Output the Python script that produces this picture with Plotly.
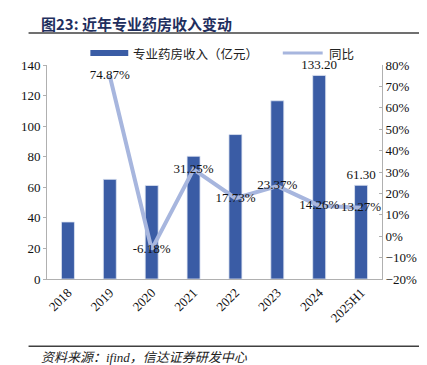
import plotly.graph_objects as go

categories = ["2018", "2019", "2020", "2021", "2022", "2023", "2024", "2025H1"]
revenue = [37.3, 65.2, 61.2, 80.3, 94.5, 116.6, 133.20, 61.30]
growth_cats = ["2019", "2020", "2021", "2022", "2023", "2024", "2025H1"]
growth = [74.87, -6.18, 31.25, 17.73, 23.37, 14.26, 13.27]
labeled_bars = ["2024", "2025H1"]

W, H = 427, 365
serif = "Times New Roman, Liberation Serif, serif"
cjk = "Noto Sans CJK SC"

bar_text = [f"{v:.2f}" if c in labeled_bars else "" for c, v in zip(categories, revenue)]
line_text = [f"{v:.2f}%" for v in growth]

tf = dict(family=serif, size=13, color="#111")

fig = go.Figure()
fig.add_trace(go.Bar(
    x=categories, y=revenue, name="专业药房收入（亿元）",
    marker=dict(color="#3a5ca5", line=dict(color="#dfe6f3", width=0.8)),
    width=0.31, text=bar_text, textposition="outside", constraintext="none",
    textfont=tf, outsidetextfont=tf, cliponaxis=False,
    showlegend=False,
))
fig.add_trace(go.Scatter(
    x=growth_cats, y=growth, name="同比", yaxis="y2",
    mode="lines+text", line=dict(color="#a7b6de", width=4),
    text=line_text, textposition="middle center",
    textfont=tf, cliponaxis=False,
    showlegend=False,
))

L, R, T, B = 38.5, 374.5, 57, 271.5
fig.update_layout(
    width=W, height=H, autosize=False,
    font=dict(family=serif, size=13, color="#111"),
    margin=dict(l=L, r=W - R, t=T, b=H - B),
    plot_bgcolor="white", paper_bgcolor="white",
    xaxis=dict(
        type="category", showline=True, linecolor="#b0b0b0", linewidth=1,
        ticks="", tickangle=-45, showgrid=False,
        tickfont=tf,
    ),
    yaxis=dict(
        range=[0, 140], dtick=20, showgrid=False, zeroline=False,
        showline=True, linecolor="#b0b0b0", linewidth=1,
        ticks="outside", ticklen=3, tickcolor="#b0b0b0",
        tickfont=tf,
    ),
    yaxis2=dict(
        range=[-20, 80], dtick=10, ticksuffix="%", overlaying="y", side="right",
        showgrid=False, zeroline=False,
        showline=True, linecolor="#b0b0b0", linewidth=1,
        ticks="inside", ticklen=3, tickcolor="#b0b0b0",
        tickfont=tf,
    ),
)


def fx(xpx):
    return (xpx - L) / (R - L)


def fy(ypx):
    return (B - ypx) / (B - T)


shapes = [
    dict(type="line", xref="paper", yref="paper", x0=fx(20), x1=fx(427),
         y0=fy(25), y1=fy(25), line=dict(color="#707070", width=2)),
    dict(type="line", xref="paper", yref="paper", x0=fx(20), x1=fx(427),
         y0=fy(339), y1=fy(339), line=dict(color="#404040", width=1.5)),
    dict(type="rect", xref="paper", yref="paper", x0=fx(82), x1=fx(120),
         y0=fy(48), y1=fy(42), fillcolor="#3a5ca5", line=dict(width=0)),
    dict(type="line", xref="paper", yref="paper", x0=fx(275), x1=fx(315),
         y0=fy(45), y1=fy(45), line=dict(color="#a7b6de", width=3)),
]
fig.update_layout(shapes=shapes)

ann = dict(xref="paper", yref="paper", xanchor="left", yanchor="middle", showarrow=False)
annotations = [
    dict(text="<b>图23: 近年专业药房收入变动</b>", x=fx(30), y=fy(15),
         font=dict(family=cjk, size=15, color="#1f2f5e"), **ann),
    dict(text="专业药房收入（亿元）", x=fx(123), y=fy(45),
         font=dict(family=cjk, size=12.5, color="#222"), **ann),
    dict(text="同比", x=fx(319), y=fy(45),
         font=dict(family=cjk, size=12.5, color="#222"), **ann),
    dict(text="<i>资料来源：ifind，信达证券研发中心</i>", x=fx(30), y=fy(350),
         font=dict(family="Liberation Serif, Noto Sans CJK SC", size=13, color="#222"), **ann),
]
fig.update_layout(annotations=annotations)

fig.write_html("out.html")
